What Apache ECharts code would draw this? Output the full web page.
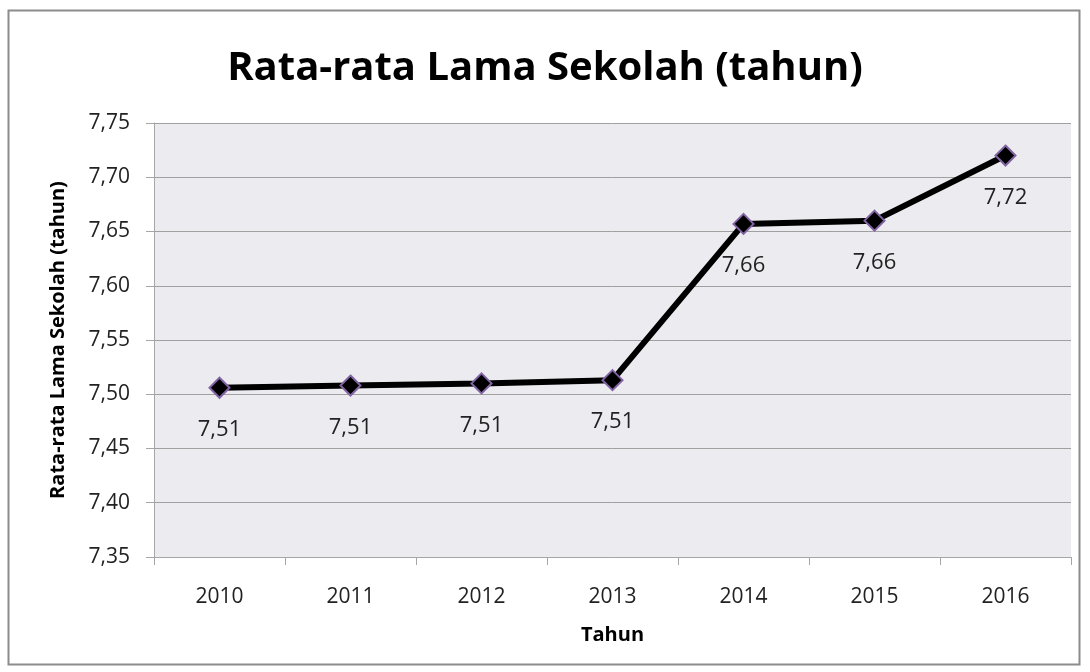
<!DOCTYPE html>
<html>
<head>
<meta charset="utf-8">
<script src="https://cdn.jsdelivr.net/npm/echarts@6/dist/echarts.min.js"></script>
<style>
  html, body { margin: 0; padding: 0; background: #fff; }
  #main { width: 1090px; height: 672px; }
</style>
</head>
<body>
<div id="main"></div>
<script>
// data
const years = ['2010', '2011', '2012', '2013', '2014', '2015', '2016'];
const rls = [7.506, 7.508, 7.510, 7.513, 7.657, 7.660, 7.720];

const fontFam = '"Open Sans", "Noto Sans", sans-serif';

const chart = echarts.init(document.getElementById('main'));

chart.setOption({
  backgroundColor: '#fff',
  animation: false,
  title: {
    text: 'Rata-rata Lama Sekolah (tahun)',
    left: 'center',
    top: 44,
    textStyle: { fontFamily: fontFam, fontSize: 40, fontWeight: 'bold', color: '#000' }
  },
  graphic: [{
    // outer chart frame
    type: 'rect',
    shape: { x: 8.5, y: 10.5, width: 1071, height: 654 },
    style: { fill: 'none', stroke: '#8c8c8c', lineWidth: 2 },
    silent: true
  }],
  grid: {
    left: 154,
    right: 19,
    top: 123,
    bottom: 115,
    show: true,
    backgroundColor: '#ecebf0',
    borderWidth: 0
  },
  xAxis: {
    type: 'category',
    data: years,
    boundaryGap: true,
    name: 'Tahun',
    nameLocation: 'center',
    nameGap: 68,
    nameTextStyle: { fontFamily: fontFam, fontSize: 20, fontWeight: 'bold', color: '#000' },
    axisLine: { lineStyle: { color: '#a6a6a6', width: 1 } },
    axisTick: { show: true, length: 8, lineStyle: { color: '#a6a6a6' } },
    axisLabel: { fontFamily: fontFam, fontSize: 21, color: '#222', margin: 30 }
  },
  yAxis: {
    type: 'value',
    min: 7.35,
    max: 7.75,
    interval: 0.05,
    name: 'Rata-rata Lama Sekolah (tahun)',
    nameLocation: 'center',
    nameGap: 86,
    nameTextStyle: { fontFamily: fontFam, fontSize: 20, fontWeight: 'bold', color: '#000' },
    axisLine: { show: true, lineStyle: { color: '#a6a6a6', width: 1 } },
    axisTick: { show: true, length: 8, inside: false, lineStyle: { color: '#a6a6a6' } },
    splitLine: { lineStyle: { color: '#a0a0a0', width: 1 } },
    axisLabel: {
      fontFamily: fontFam, fontSize: 21, color: '#222', margin: 24,
      formatter: v => v.toFixed(2).replace('.', ',')
    }
  },
  series: [{
    type: 'line',
    data: rls,
    symbol: 'diamond',
    symbolSize: 20,
    lineStyle: { color: '#000', width: 6 },
    itemStyle: { color: '#000', borderColor: '#8064a2', borderWidth: 2 },
    label: {
      show: true,
      position: 'bottom',
      distance: 20,
      fontFamily: fontFam,
      fontSize: 22,
      color: '#222',
      formatter: p => p.value.toFixed(2).replace('.', ',')
    }
  }]
});
</script>
</body>
</html>
